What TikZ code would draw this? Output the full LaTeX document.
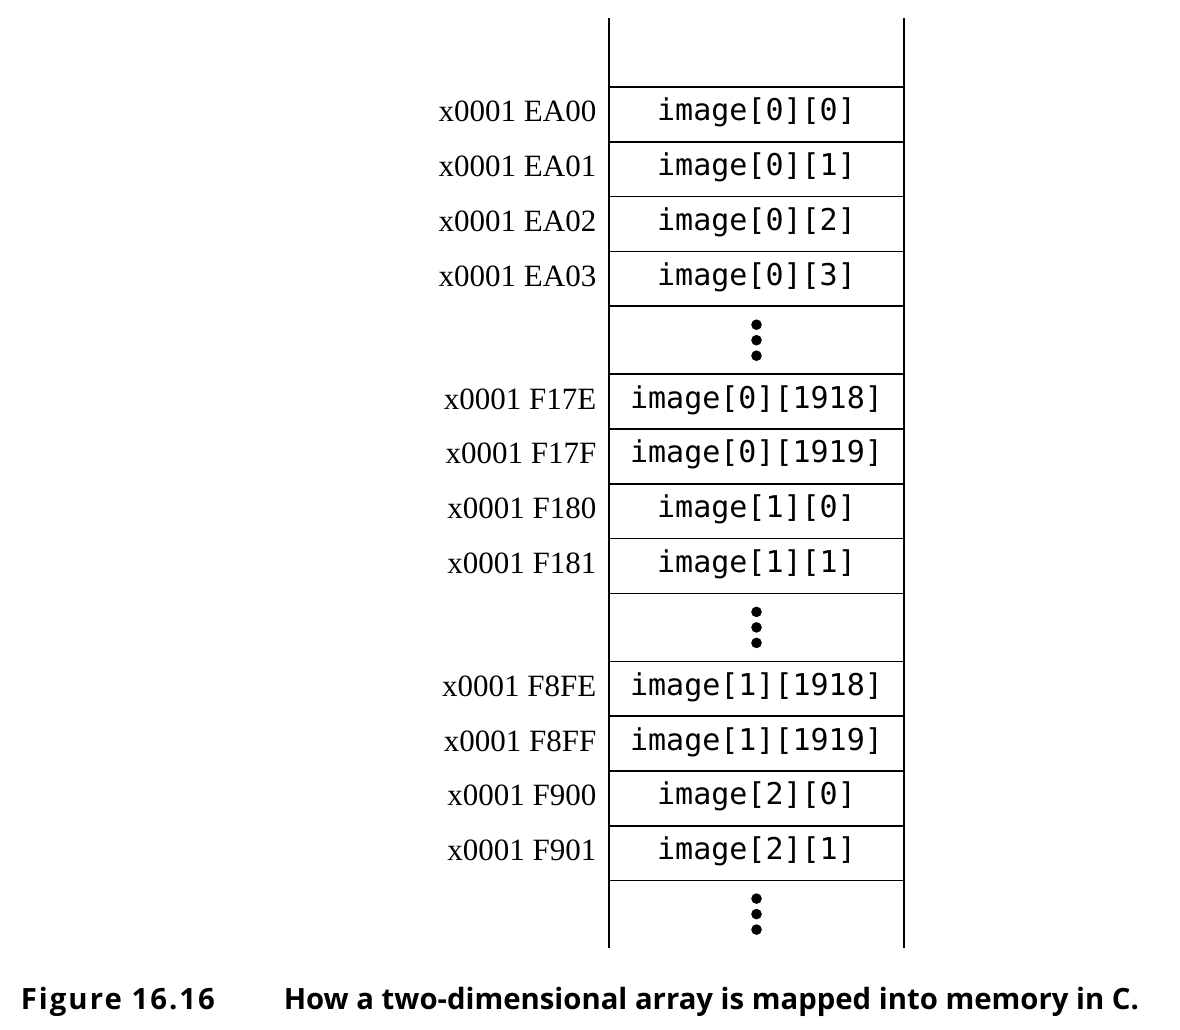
\documentclass[tikz,border=0pt]{standalone}
\usepackage{fontspec}
\setmainfont{Liberation Serif}
\newfontfamily\cellfont{DejaVu Sans Mono}
\newfontfamily\captionfont{Open Sans}
\newfontfamily\fignumfont{Open Sans}[LetterSpace=7]
\usepackage{tikz}
\usetikzlibrary{positioning}
\tikzset{
	cell/.style={
		draw, minimum width=295pt, minimum height=54.8pt,
		inner sep=0pt, outer sep=0pt,
		text height=22pt, text depth=9pt,
		font=\cellfont\fontsize{30}{36}\selectfont
	},
	dotrow/.style={cell, minimum height=68pt},
	addr/.style={
		inner sep=0pt, text height=21pt, text depth=6pt,
		font=\fontsize{31}{36}\selectfont
	},
	every label/.style={addr},
	caption/.style={
		anchor=base west, inner sep=0pt,
		font=\captionfont\bfseries\fontsize{29.3}{36}\selectfont
	}
}

\begin{document}
\begin{tikzpicture}[x=1pt, y=-1pt, line width=1.5pt, label distance=12pt]
	\useasboundingbox (0,0) rectangle (1180,1030);

	% first row
	\node[cell, anchor=north, label=left:x0001 EA00] (c00) at (756.5,87) {image[0][0]};
	\node[cell, below=0pt of c00, label=left:x0001 EA01] (c01) {image[0][1]};
	\node[cell, below=0pt of c01, label=left:x0001 EA02] (c02) {image[0][2]};
	\node[cell, below=0pt of c02, label=left:x0001 EA03] (c03) {image[0][3]};
	\node[dotrow, below=0pt of c03] (d1) {};
	\node[cell, below=0pt of d1, label=left:x0001 F17E] (c0a) {image[0][1918]};
	\node[cell, below=0pt of c0a, label=left:x0001 F17F] (c0b) {image[0][1919]};

	% second row
	\node[cell, below=0pt of c0b, label=left:x0001 F180] (c10) {image[1][0]};
	\node[cell, below=0pt of c10, label=left:x0001 F181] (c11) {image[1][1]};
	\node[dotrow, below=0pt of c11] (d2) {};
	\node[cell, below=0pt of d2, label=left:x0001 F8FE] (c1a) {image[1][1918]};
	\node[cell, below=0pt of c1a, label=left:x0001 F8FF] (c1b) {image[1][1919]};

	% third row
	\node[cell, below=0pt of c1b, label=left:x0001 F900] (c20) {image[2][0]};
	\node[cell, below=0pt of c20, label=left:x0001 F901] (c21) {image[2][1]};

	% open ends
	\node[dotrow, draw=none, above=0pt of c00, minimum height=69pt] (top) {};
	\node[dotrow, draw=none, below=0pt of c21, minimum height=67pt] (d3) {};
	\draw (top.north west) -- (c00.north west) (top.north east) -- (c00.north east);
	\draw (c21.south west) -- (d3.south west) (c21.south east) -- (d3.south east);

	\foreach \r in {d1,d2,d3}{
		\foreach \k in {-1,0,1}
			\fill (\r.center) ++(0,\k*15.5) circle[radius=5.3pt];
	}

	\node[caption, font=\fignumfont\bfseries\fontsize{29.3}{36}\selectfont] (fignum) at (20,1009) {Figure 16.16};
	\node[caption] (figtext) at (283,1009) {How a two-dimensional array is mapped into memory in C.};
\end{tikzpicture}
\end{document}
